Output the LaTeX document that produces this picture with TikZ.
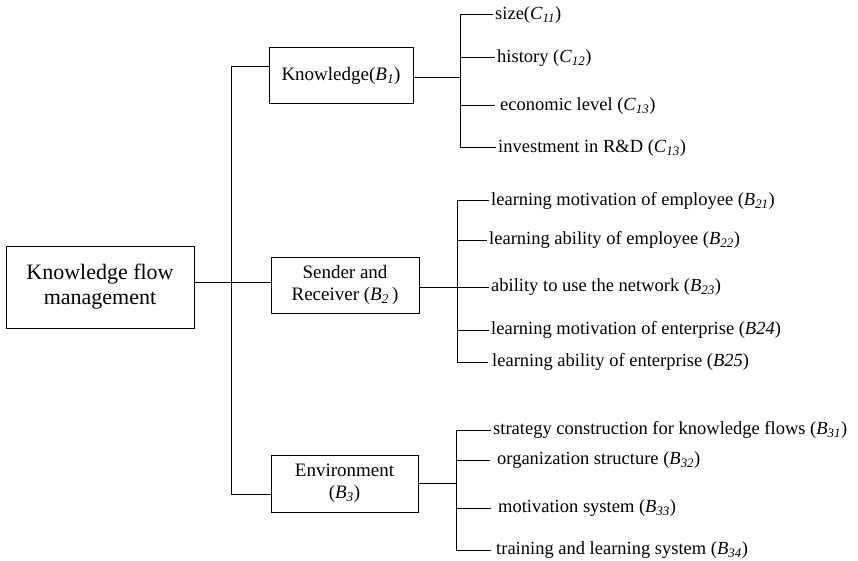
\documentclass[tikz,border=0pt]{standalone}
\usepackage{fontspec}
\setmainfont{Liberation Serif}
\usetikzlibrary{positioning}
\newcommand{\idx}[2]{\textit{#1}\textsubscript{\textit{#2}}}

\begin{document}
\begin{tikzpicture}[
    x=1pt, y=-1pt,
    box/.style={draw, line width=1pt, align=center, inner sep=0pt, font=\fontsize{19}{22}\selectfont},
    leaf/.style={anchor=west, inner xsep=2pt, inner ysep=0pt, font=\fontsize{18.5}{22}\selectfont},
    link/.style={line width=1pt},
]
\useasboundingbox (0,0) rectangle (858,561);

% Root and criteria
\node[box, minimum width=188pt, minimum height=82pt, font=\fontsize{22}{25}\selectfont] (root) at (100,287) {Knowledge flow\\management};
\node[box, minimum width=144pt, minimum height=56pt] (b1) at (341,76) {Knowledge(\idx{B}{1})};
\node[box, minimum width=148pt, minimum height=56pt] (b2) at (345,285) {Sender and\\Receiver (\idx{B}{2}\,)};
\node[box, minimum width=147pt, minimum height=57pt] (b3) at (344.5,483.5) {Environment\\(\idx{B}{3})};

% Trunk
\coordinate (tt) at (231,67);
\coordinate (tm) at (231,282);
\coordinate (tb) at (231,494);
\draw[link] (b1.west |- tt) -- (tt) -- (tb) -- (b3.west |- tb);
\draw[link] (root.east |- tm) -- (b2.west |- tm);

% Knowledge
\coordinate (s1) at (460,78);
\node[leaf] (c11) at (493,15) {size(\idx{C}{11})};
\node[leaf] (c12) at (495,58) {history (\idx{C}{12})};
\node[leaf] (c13) at (495,106) {\hspace*{3pt}economic level (\idx{C}{13})};
\node[leaf] (c14) at (496,148) {investment in R\&D (\idx{C}{13})};
\draw[link] (b1.east |- s1) -- (s1);
\draw[link] (c11.west) -- (c11.west -| s1) -- (c14.west -| s1) -- (c14.west);
\draw[link] (c12.west -| s1) -- (c12.west);
\draw[link] (c13.west -| s1) -- (c13.west);

% Sender and receiver
\coordinate (s2) at (457,287);
\node[leaf] (c21) at (489,201) {learning motivation of employee (\idx{B}{21})};
\node[leaf] (c22) at (487,240) {learning ability of employee (\idx{B}{22})};
\node[leaf] (c23) at (489,287) {ability to use the network (\idx{B}{23})};
\node[leaf] (c24) at (489,330) {learning motivation of enterprise (\textit{B24})};
\node[leaf] (c25) at (488,362) {\hspace*{2pt}learning ability of enterprise (\textit{B25})};
\draw[link] (b2.east |- s2) -- (s2);
\draw[link] (c21.west) -- (c21.west -| s2) -- (c25.west -| s2) -- (c25.west);
\draw[link] (c22.west -| s2) -- (c22.west);
\draw[link] (c23.west -| s2) -- (c23.west);
\draw[link] (c24.west -| s2) -- (c24.west);

% Environment
\coordinate (s3) at (456,483);
\node[leaf] (c31) at (491,430) {strategy construction for knowledge flows (\idx{B}{31})};
\node[leaf] (c32) at (490,460) {\hspace*{5pt}organization structure (\idx{B}{32})};
\node[leaf] (c33) at (491,508) {\hspace*{5pt}motivation system (\idx{B}{33})};
\node[leaf] (c34) at (491,550) {\hspace*{3pt}training and learning system (\idx{B}{34})};
\draw[link] (b3.east |- s3) -- (s3);
\draw[link] (c31.west) -- (c31.west -| s3) -- (c34.west -| s3) -- (c34.west);
\draw[link] (c32.west -| s3) -- (c32.west);
\draw[link] (c33.west -| s3) -- (c33.west);

\end{tikzpicture}
\end{document}
